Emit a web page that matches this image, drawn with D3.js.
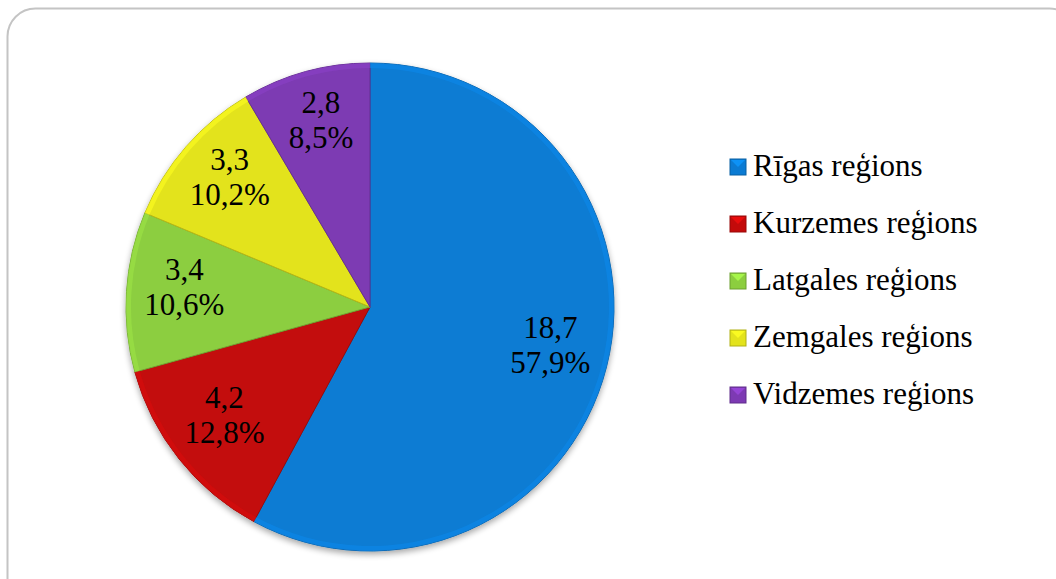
<!DOCTYPE html>
<html>
<head>
<meta charset="utf-8">
<script src="https://cdn.jsdelivr.net/npm/d3@7"></script>
<style>
  body { margin: 0; background: #fff; }
  svg { display: block; }
</style>
</head>
<body>
<div id="chart-area"></div>
<script>
// regions, values (thousands) and shares as shown on the chart
var regions = ["Rīgas reģions", "Kurzemes reģions", "Latgales reģions", "Zemgales reģions", "Vidzemes reģions"];
var values = ["18,7", "4,2", "3,4", "3,3", "2,8"];
var shares = [57.9, 12.8, 10.6, 10.2, 8.5];
var colors = ["#0b7bd3", "#c30a0a", "#8cce3f", "#e3e31c", "#7d3ab3"];

var width = 1056, height = 579;
var cx = 370, cy = 307, radius = 244;
var font = "'Liberation Serif'";

var svg = d3.select("#chart-area")
	.append("svg")
		.attr("width", width)
		.attr("height", height)

var defs = svg.append("defs")

var shadow = defs.append("filter")
	.attr("id", "shadow")
	.attr("x", "-10%").attr("y", "-10%")
	.attr("width", "120%").attr("height", "125%")
shadow.append("feGaussianBlur").attr("in", "SourceAlpha").attr("stdDeviation", 3)
shadow.append("feOffset").attr("dx", 0).attr("dy", 3).attr("result", "b")
shadow.append("feComponentTransfer").append("feFuncA").attr("type", "linear").attr("slope", 0.35)
var merge = shadow.append("feMerge")
merge.append("feMergeNode")
merge.append("feMergeNode").attr("in", "SourceGraphic")

// outer frame
svg.append("rect")
	.attr("x", 7.5)
	.attr("y", 8.5)
	.attr("width", 1070)
	.attr("height", 600)
	.attr("rx", 28)
	.attr("fill", "#fff")
	.attr("stroke", "#c4c4c4")
	.attr("stroke-width", 2)

var data = regions.map(function(r, i){
	return {region: r, value: values[i], share: shares[i], color: colors[i]};
})

var pie = d3.pie()
	.sort(null)
	.value(function(d){ return d.share; })

var arc = d3.arc().innerRadius(0).outerRadius(radius)
var rimArc = d3.arc().innerRadius(radius - 5).outerRadius(radius)
var labelArc = d3.arc().innerRadius(186).outerRadius(186)

var g = svg.append("g")
	.attr("transform", "translate(" + cx + "," + cy + ")")

var arcs = pie(data)

g.append("g")
	.attr("filter", "url(#shadow)")
	.selectAll("path")
	.data(arcs)
	.enter()
	.append("path")
		.attr("d", arc)
		.attr("fill", function(d){ return d.data.color; })
		.attr("stroke", function(d){ return d3.color(d.data.color).darker(0.6); })
		.attr("stroke-width", 1)
		.attr("stroke-linejoin", "round")

// light bevel along the rim
g.append("g")
	.selectAll("path")
	.data(arcs)
	.enter()
	.append("path")
		.attr("d", rimArc)
		.attr("fill", function(d){ return d3.color(d.data.color).brighter(0.3); })
		.attr("opacity", 0.6)

g.selectAll(".lbl")
	.data(arcs)
	.enter()
	.append("text")
		.attr("class", "lbl")
		.attr("transform", function(d){ return "translate(" + labelArc.centroid(d) + ")"; })
		.attr("text-anchor", "middle")
		.style("font-family", font)
		.style("font-size", "31px")
		.attr("fill", "#000")
		.each(function(d){
			var t = d3.select(this)
			t.append("tspan").attr("x", 0).attr("y", -15).text(d.data.value)
			t.append("tspan").attr("x", 0).attr("y", 20).text(String(d.data.share).replace(".", ",") + "%")
		})

// legend
var ly = d3.scalePoint()
	.domain(regions)
	.range([176, 404])

var legend = svg.append("g")
	.selectAll("g")
	.data(data)
	.enter()
	.append("g")
		.attr("transform", function(d){ return "translate(730," + ly(d.region) + ")"; })

legend.append("rect")
	.attr("x", 0)
	.attr("y", -17)
	.attr("width", 16)
	.attr("height", 16)
	.attr("fill", function(d){ return d.color; })
	.attr("stroke", function(d){ return d3.color(d.color).darker(0.7); })
	.attr("stroke-width", 1)

legend.append("path")
	.attr("d", "M1,-16 L8,-9 L15,-16 Z")
	.attr("fill", function(d){ return d3.color(d.color).brighter(0.6); })
	.attr("opacity", 0.8)

legend.append("text")
	.attr("x", 23)
	.attr("y", 0)
	.style("font-family", font)
	.style("font-size", "31px")
	.attr("fill", "#000")
	.text(function(d){ return d.region; })
</script>
</body>
</html>
